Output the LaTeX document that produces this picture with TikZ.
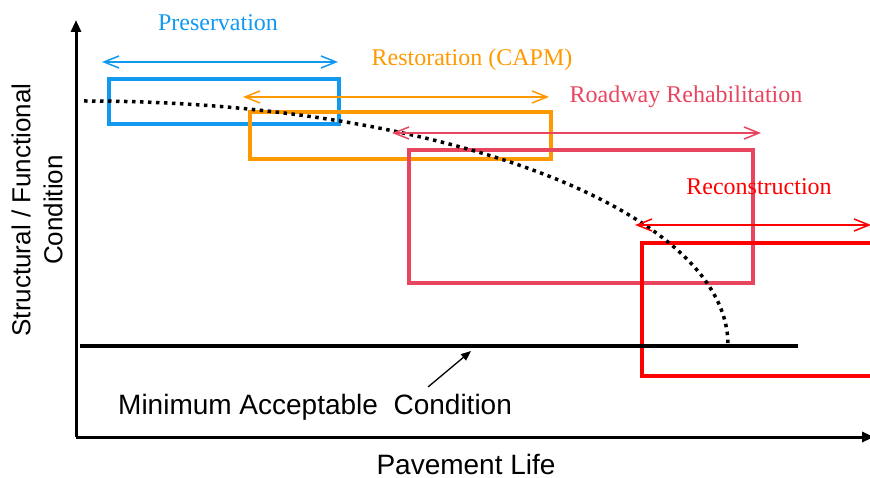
\documentclass[tikz,border=0pt]{standalone}
\usepackage{fontspec}
\setmainfont{Liberation Serif}
\setsansfont{Liberation Sans}
\usetikzlibrary{arrows.meta}
\definecolor{presblue}{RGB}{17,153,240}
\definecolor{restorange}{RGB}{255,153,0}
\definecolor{rehabpink}{RGB}{232,69,95}
\definecolor{reconred}{RGB}{255,0,0}
\tikzset{
  span/.style={line width=1.5pt,{Straight Barb[length=15pt,width=12pt]}-{Straight Barb[length=15pt,width=12pt]}},
  phase/.style={line width=3.5pt},
  phaselabel/.style={font=\fontsize{24}{28}\selectfont,anchor=base,inner sep=0pt},
  axislabel/.style={font=\sffamily\fontsize{28}{33}\selectfont,inner sep=0pt},
  axis/.style={line width=3pt,-{Triangle[length=12pt,width=10pt]}},
}
\begin{document}
\begin{tikzpicture}[x=1pt,y=-1pt]
    \useasboundingbox (0,0) rectangle (870,478);
    \clip (0,0) rectangle (870,478);
    % axes
    \coordinate (origin) at (76,437);
    \coordinate (ytop) at (76,20);
    \coordinate (xend) at (874,437);
    \draw[axis] (origin)--(ytop);
    \draw[axis] (origin)--(xend);
    \node[axislabel,anchor=base] (xlabel) at (466,474) {Pavement Life};
    \node[axislabel,font=\sffamily\fontsize{26}{32}\selectfont,align=center,rotate=90] (ylabel) at (37,210) {Structural / Functional\\Condition};

    % phase boxes
    \draw[phase,presblue] (109,79) rectangle (339,124);
    \draw[phase,restorange] (250,112) rectangle (551,159);
    \draw[phase,rehabpink] (409,150) rectangle (753,283);
    \draw[phase,reconred] (642,243) rectangle (880,376);

    % minimum condition
    \coordinate (min-l) at (80,346);
    \coordinate (min-r) at (798,346);
    \draw[line width=3.5pt] (min-l)--(min-r);
    \node[axislabel,anchor=base west] (minlabel) at (118,414) {Minimum Acceptable\ \ Condition};
    \coordinate (min-from) at (428,387);
    \coordinate (min-to) at (471,351);
    \draw[line width=1.3pt,-{Triangle[length=10pt,width=8pt]}] (min-from)--(min-to);

    % deterioration curve
    \draw[line width=3.5pt,dash pattern=on 3.5pt off 4.5pt] (84,101) arc[start angle=-90,end angle=0,x radius=644,y radius=244];

    % ranges
    \coordinate (pres-l) at (102,62);  \coordinate (pres-r) at (338,62);
    \coordinate (rest-l) at (243,97);  \coordinate (rest-r) at (549,97);
    \coordinate (rehab-l) at (392,133);\coordinate (rehab-r) at (761,133);
    \coordinate (recon-l) at (635,225);\coordinate (recon-r) at (871,225);
    \draw[span,presblue] (pres-l)--(pres-r);
    \draw[span,restorange] (rest-l)--(rest-r);
    \draw[span,rehabpink] (rehab-l)--(rehab-r);
    \draw[span,reconred] (recon-l)--(recon-r);

    \node[phaselabel,presblue] (pres) at (218,31) {Preservation};
    \node[phaselabel,restorange] (rest) at (472,66) {Restoration (CAPM)};
    \node[phaselabel,rehabpink] (rehab) at (686,103) {Roadway Rehabilitation};
    \node[phaselabel,reconred] (recon) at (759,195) {Reconstruction};
\end{tikzpicture}
\end{document}
